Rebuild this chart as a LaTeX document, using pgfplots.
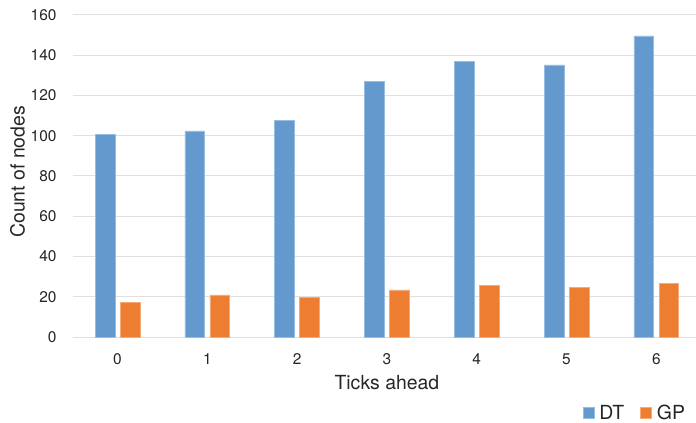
\documentclass[border=0pt]{standalone}
\usepackage{pgfplots}
\pgfplotsset{compat=1.18}
\usepackage{fontspec}
\setmainfont{TeX Gyre Heros}

\definecolor{dtblue}{RGB}{99,153,204}
\definecolor{dtedge}{RGB}{150,188,226}
\definecolor{gporange}{RGB}{237,125,49}
\definecolor{gpedge}{RGB}{245,170,120}
\definecolor{gridgray}{RGB}{224,224,224}

\begin{document}
\begin{tikzpicture}
\begin{axis}[
  scale only axis,
  width=628.6bp, height=322bp,
  xmin=-0.5, xmax=6.5,
  ymin=0, ymax=160,
  xtick={0,...,6},
  ytick={0,20,...,160},
  major tick length=0pt,
  axis line style={draw=none},
  ymajorgrids,
  grid style={draw=gridgray, line width=1bp},
  /pgf/number format/assume math mode=true,
  ticklabel style={font=\fontsize{15.5}{18}\selectfont, text=black!85},
  yticklabel style={anchor=east, inner sep=0pt, xshift=-15.9bp},
  xticklabel style={anchor=base, inner sep=0pt, yshift=-27.3bp},
  xlabel={Ticks ahead},
  ylabel={Count of nodes},
  every axis x label/.style={at={(axis description cs:0.5,0)}, anchor=base,
    yshift=-52.3bp, font=\fontsize{19.5}{22}\selectfont, text=black!85},
  every axis y label/.style={at={(axis description cs:-0.0765,0.513)}, rotate=90,
    anchor=base, font=\fontsize{19.5}{22}\selectfont, text=black!85},
  legend columns=2,
  legend style={at={(axis description cs:0.8115,-0.2609)}, anchor=south west,
    draw=none, fill=none, inner sep=0pt, outer sep=0pt,
    font=\fontsize{19.5}{22}\selectfont, text=black!85,
    nodes={inner sep=0pt},
    /tikz/every odd column/.append style={column sep=5bp},
    /tikz/every even column/.append style={column sep=16bp}},
  legend image code/.code={\fill[#1] (0bp,-5.5bp) rectangle (11bp,5.5bp);},
]
% Decision tree node counts
\addplot[ybar, bar width=0.22, bar shift=-0.14, fill=dtblue, draw=dtedge,
  line width=0.6bp] coordinates {
  (0,100.7) (1,102.4) (2,107.7) (3,126.9) (4,136.8) (5,135.2) (6,149.6)};
\addlegendentry{DT}
% Genetic programming node counts
\addplot[ybar, bar width=0.22, bar shift=0.14, fill=gporange, draw=gpedge,
  line width=0.6bp] coordinates {
  (0,17.2) (1,20.9) (2,19.5) (3,23.4) (4,25.7) (5,24.7) (6,26.8)};
\addlegendentry{GP}
\end{axis}
\pgfresetboundingbox
\useasboundingbox (-72.6bp,-86bp) rectangle (623.4bp,337bp);
\end{tikzpicture}
\end{document}
